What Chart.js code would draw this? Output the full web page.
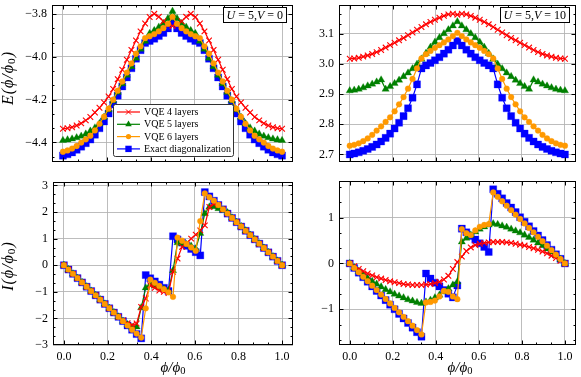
<!DOCTYPE html>
<html><head><meta charset="utf-8">
<script src="https://cdn.jsdelivr.net/npm/chart.js@4.4.1/dist/chart.umd.min.js"></script>
<style>
html,body{margin:0;padding:0;background:#fff;}
#wrap{position:relative;width:581px;height:377px;overflow:hidden;background:#fff;}
canvas{position:absolute;}
</style></head><body>
<div id="wrap">
<canvas id="cTL" style="left:0px;top:0px;width:300px;height:175px" width="300" height="175"></canvas>
<canvas id="cTR" style="left:290px;top:0px;width:291px;height:175px" width="291" height="175"></canvas>
<canvas id="cBL" style="left:0px;top:175px;width:300px;height:202px" width="300" height="202"></canvas>
<canvas id="cBR" style="left:290px;top:175px;width:291px;height:202px" width="291" height="202"></canvas>
</div>
<script>
// ---------- data ----------
const phi = [0,0.0208,0.0417,0.0625,0.0833,0.1042,0.125,0.1458,0.1667,0.1875,0.2083,0.2292,0.25,0.2708,0.2917,0.3125,0.3333,0.3542,0.375,0.3958,0.4167,0.4375,0.4583,0.4792,0.5,0.5208,0.5417,0.5625,0.5833,0.6042,0.625,0.6458,0.6667,0.6875,0.7083,0.7292,0.75,0.7708,0.7917,0.8125,0.8333,0.8542,0.875,0.8958,0.9167,0.9375,0.9583,0.9792,1];
const seriesNames = ['VQE 4 layers','VQE 5 layers','VQE 6 layers','Exact diagonalization'];

// Energy, U=5, V=0
const eV0_vqe4 = [-4.336,-4.334,-4.329,-4.321,-4.311,-4.297,-4.281,-4.260,-4.238,-4.213,-4.185,-4.150,-4.104,-4.060,-4.013,-3.967,-3.923,-3.880,-3.843,-3.813,-3.798,-3.812,-3.833,-3.850,-3.855,-3.850,-3.833,-3.812,-3.798,-3.813,-3.843,-3.880,-3.923,-3.967,-4.013,-4.060,-4.104,-4.150,-4.185,-4.213,-4.238,-4.260,-4.281,-4.297,-4.311,-4.321,-4.329,-4.334,-4.336];
const eV0_vqe5 = [-4.391,-4.388,-4.384,-4.378,-4.371,-4.361,-4.347,-4.332,-4.312,-4.282,-4.247,-4.205,-4.165,-4.125,-4.085,-4.045,-4.005,-3.963,-3.926,-3.890,-3.876,-3.860,-3.843,-3.820,-3.786,-3.820,-3.843,-3.860,-3.876,-3.890,-3.926,-3.963,-4.005,-4.045,-4.085,-4.125,-4.165,-4.205,-4.247,-4.282,-4.312,-4.332,-4.347,-4.361,-4.371,-4.378,-4.384,-4.388,-4.391];
const eV0_vqe6 = [-4.444,-4.438,-4.429,-4.417,-4.401,-4.386,-4.369,-4.344,-4.313,-4.280,-4.242,-4.200,-4.158,-4.115,-4.073,-4.030,-3.985,-3.950,-3.912,-3.903,-3.893,-3.880,-3.865,-3.845,-3.812,-3.845,-3.865,-3.880,-3.893,-3.903,-3.912,-3.950,-3.985,-4.030,-4.073,-4.115,-4.158,-4.200,-4.242,-4.280,-4.313,-4.344,-4.369,-4.386,-4.401,-4.417,-4.429,-4.438,-4.444];
const eV0_exact = [-4.462,-4.456,-4.447,-4.435,-4.420,-4.404,-4.387,-4.364,-4.334,-4.302,-4.265,-4.223,-4.181,-4.138,-4.096,-4.053,-4.008,-3.968,-3.935,-3.925,-3.915,-3.902,-3.887,-3.866,-3.835,-3.866,-3.887,-3.902,-3.915,-3.925,-3.935,-3.968,-4.008,-4.053,-4.096,-4.138,-4.181,-4.223,-4.265,-4.302,-4.334,-4.364,-4.387,-4.404,-4.420,-4.435,-4.447,-4.456,-4.462];

// Energy, U=5, V=10
const eV10_vqe4 = [3.017,3.018,3.020,3.024,3.028,3.033,3.039,3.046,3.054,3.062,3.070,3.078,3.086,3.095,3.104,3.113,3.122,3.131,3.139,3.146,3.153,3.159,3.164,3.166,3.163,3.166,3.164,3.159,3.153,3.146,3.139,3.131,3.122,3.113,3.104,3.095,3.086,3.078,3.070,3.062,3.054,3.046,3.039,3.033,3.028,3.024,3.020,3.018,3.017];
const eV10_vqe5 = [2.911,2.913,2.916,2.921,2.927,2.933,2.940,2.947,2.916,2.925,2.935,2.946,2.958,2.970,2.984,2.999,3.016,3.035,3.055,3.072,3.087,3.100,3.113,3.126,3.140,3.126,3.113,3.100,3.087,3.072,3.055,3.035,3.016,2.999,2.984,2.970,2.958,2.946,2.935,2.925,2.916,2.947,2.940,2.933,2.927,2.921,2.916,2.913,2.911];
const eV10_vqe6 = [2.729,2.732,2.737,2.744,2.753,2.765,2.779,2.793,2.808,2.823,2.843,2.866,2.890,2.918,2.950,2.985,3.018,3.032,3.043,3.053,3.062,3.071,3.081,3.092,3.103,3.092,3.081,3.071,3.062,3.053,3.043,3.032,3.018,2.985,2.950,2.918,2.890,2.866,2.843,2.823,2.808,2.793,2.779,2.765,2.753,2.744,2.737,2.732,2.729];
const eV10_exact = [2.700,2.703,2.707,2.712,2.718,2.725,2.733,2.743,2.755,2.769,2.786,2.805,2.827,2.853,2.888,2.932,2.985,2.995,3.003,3.012,3.022,3.034,3.047,3.061,3.076,3.061,3.047,3.034,3.022,3.012,3.003,2.995,2.985,2.932,2.888,2.853,2.827,2.805,2.786,2.769,2.755,2.743,2.733,2.725,2.718,2.712,2.707,2.703,2.700];

// Current, U=5, V=0
const iV0_vqe4 = [0,-0.162,-0.324,-0.485,-0.647,-0.809,-0.971,-1.132,-1.294,-1.456,-1.618,-1.779,-1.941,-2.080,-2.180,-2.250,-2.190,-1.570,-1.250,-0.750,-0.850,-0.950,-1.000,-1.050,-0.250,0.250,0.690,0.820,1.000,1.150,1.310,1.500,2.190,2.300,2.265,2.103,1.941,1.779,1.618,1.456,1.294,1.132,0.971,0.809,0.647,0.485,0.324,0.162,0];
const iV0_vqe5 = [0,-0.162,-0.324,-0.485,-0.647,-0.809,-0.971,-1.132,-1.294,-1.456,-1.618,-1.779,-1.941,-2.103,-2.230,-2.330,-2.320,-1.600,-0.850,-0.720,-0.780,-0.840,-0.900,-0.950,-0.200,0.850,0.820,0.780,0.720,0.620,1.200,1.940,2.190,2.200,2.130,2.070,1.980,1.779,1.618,1.456,1.294,1.132,0.971,0.809,0.647,0.485,0.324,0.162,0];
const iV0_vqe6 = [0,-0.162,-0.324,-0.485,-0.647,-0.809,-0.971,-1.132,-1.294,-1.456,-1.618,-1.779,-1.941,-2.103,-2.265,-2.426,-2.570,-2.720,-1.620,-0.540,-0.660,-0.780,-0.900,-1.020,-1.190,1.040,0.920,0.800,0.670,0.540,1.660,2.700,2.560,2.426,2.265,2.103,1.941,1.779,1.618,1.456,1.294,1.132,0.971,0.809,0.647,0.485,0.324,0.162,0];
const iV0_exact = [0,-0.162,-0.324,-0.485,-0.647,-0.809,-0.971,-1.132,-1.294,-1.456,-1.618,-1.779,-1.941,-2.103,-2.265,-2.426,-2.588,-2.750,-0.370,-0.490,-0.610,-0.730,-0.850,-0.970,1.090,0.970,0.850,0.730,0.610,0.490,0.370,2.750,2.588,2.426,2.265,2.103,1.941,1.779,1.618,1.456,1.294,1.132,0.971,0.809,0.647,0.485,0.324,0.162,0];

// Current, U=5, V=10
const iV10_vqe4 = [0,-0.060,-0.120,-0.170,-0.220,-0.260,-0.300,-0.330,-0.360,-0.390,-0.410,-0.430,-0.450,-0.460,-0.470,-0.470,-0.470,-0.460,-0.450,-0.430,-0.400,-0.350,-0.270,-0.120,0.030,0.150,0.270,0.350,0.400,0.430,0.450,0.460,0.470,0.470,0.470,0.460,0.450,0.430,0.410,0.390,0.360,0.330,0.300,0.260,0.220,0.170,0.120,0.060,0];
const iV10_vqe5 = [0,-0.090,-0.170,-0.250,-0.320,-0.390,-0.450,-0.510,-0.570,-0.620,-0.670,-0.710,-0.750,-0.790,-0.820,-0.850,-0.870,-0.840,-0.800,-0.750,-0.690,-0.620,-0.550,-0.470,-0.400,0.470,0.550,0.620,0.690,0.750,0.800,0.840,0.870,0.850,0.820,0.790,0.750,0.710,0.670,0.620,0.570,0.510,0.450,0.390,0.320,0.250,0.170,0.090,0];
const iV10_vqe6 = [0,-0.097,-0.194,-0.291,-0.388,-0.485,-0.582,-0.679,-0.776,-0.873,-0.970,-1.067,-1.164,-1.261,-1.358,-1.455,-1.550,-0.850,-0.840,-0.810,-0.720,-0.600,-0.620,-0.720,-0.780,0.750,0.660,0.620,0.720,0.800,0.840,0.860,1.550,1.455,1.358,1.261,1.164,1.067,0.970,0.873,0.776,0.679,0.582,0.485,0.388,0.291,0.194,0.097,0];
const iV10_exact = [0,-0.100,-0.200,-0.300,-0.400,-0.500,-0.600,-0.700,-0.800,-0.900,-1.000,-1.100,-1.200,-1.300,-1.400,-1.500,-1.600,-0.220,-0.330,-0.420,-0.500,-0.580,-0.660,-0.740,-0.480,0.760,0.680,0.600,0.520,0.440,0.360,0.250,1.620,1.520,1.420,1.320,1.220,1.120,1.010,0.910,0.810,0.710,0.610,0.510,0.400,0.300,0.200,0.100,0];

// tick labels
const xTicks = [0, 0.2, 0.4, 0.6, 0.8, 1.0];
const yTicksE0 = [-4.4, -4.2, -4.0, -3.8];
const yTicksE10 = [2.7, 2.8, 2.9, 3.0, 3.1];
const yTicksI0 = [-3, -2, -1, 0, 1, 2, 3];
const yTicksI10 = [-1, 0, 1];

// ---------- styling ----------
const SERIF = '"Liberation Serif","DejaVu Serif",serif';
const COLORS = ['#ff0000', '#008000', '#ff9900', '#0000ff'];
const STYLES = ['crossRot', 'triangle', 'circle', 'rect'];
const RADII = [4.0, 4.2, 2.9, 5.0];
const ORDERS = [2, 3, 1, 4];
const GRID = 'rgba(178,178,178,0.85)';

function fmt(dec) {
  return v => { const s = Math.abs(v).toFixed(dec); return (v < -1e-9 ? '\u2212' : '') + s; };
}
function minorVals(lo, hi, step) {
  const out = [];
  const start = Math.ceil(lo / step - 1e-6);
  for (let k = start; k * step <= hi + 1e-9; k++) out.push(+(k * step).toFixed(6));
  return out;
}
function partsWidth(ctx, parts) {
  let w = 0; for (const p of parts) { ctx.font = p.font; w += ctx.measureText(p.t).width; } return w;
}
function drawParts(ctx, parts, x, y) {
  let cx = x;
  for (const p of parts) { ctx.font = p.font; ctx.fillText(p.t, cx, y + (p.dy || 0)); cx += ctx.measureText(p.t).width; }
}
const IT = s => 'italic ' + s + 'px ' + SERIF;
const RM = s => s + 'px ' + SERIF;
function phiTitle(prefix, size) {
  const arr = [];
  if (prefix) arr.push({t: prefix + '(', font: IT(size)});
  arr.push({t: '\u03D5/\u03D5', font: IT(size)});
  arr.push({t: '0', font: RM(size * 0.7), dy: 3});
  if (prefix) arr.push({t: ')', font: IT(size)});
  return arr;
}

function drawMarker(ctx, style, x, y, r, color) {
  ctx.save();
  ctx.fillStyle = color; ctx.strokeStyle = color; ctx.lineWidth = 1;
  ctx.beginPath();
  if (style === 'crossRot') {
    const d = r * Math.SQRT1_2;
    ctx.moveTo(x - d, y - d); ctx.lineTo(x + d, y + d);
    ctx.moveTo(x - d, y + d); ctx.lineTo(x + d, y - d); ctx.stroke();
  } else if (style === 'triangle') {
    ctx.moveTo(x, y - r);
    ctx.lineTo(x + Math.sin(2 * Math.PI / 3) * r, y - Math.cos(2 * Math.PI / 3) * r);
    ctx.lineTo(x + Math.sin(4 * Math.PI / 3) * r, y - Math.cos(4 * Math.PI / 3) * r);
    ctx.closePath(); ctx.fill();
  } else if (style === 'circle') {
    ctx.arc(x, y, r, 0, Math.PI * 2); ctx.fill();
  } else {
    const s = r * Math.SQRT1_2; ctx.rect(x - s, y - s, 2 * s, 2 * s); ctx.fill();
  }
  ctx.restore();
}

const decor = {
  id: 'decor',
  afterDatasetsDraw(chart, args, o) {
    const {ctx, chartArea: a} = chart;
    const xs = chart.scales.x, ys = chart.scales.y;
    const L = Math.round(a.left), R = Math.round(a.right), T = Math.round(a.top), B = Math.round(a.bottom);
    ctx.save();
    ctx.strokeStyle = '#000'; ctx.lineWidth = 1;
    ctx.beginPath();
    const xt = (vals, len) => vals.forEach(v => { const p = Math.round(xs.getPixelForValue(v)) + 0.5; if (p < L || p > R) return; ctx.moveTo(p, B); ctx.lineTo(p, B - len); ctx.moveTo(p, T); ctx.lineTo(p, T + len); });
    const yt = (vals, len) => vals.forEach(v => { const p = Math.round(ys.getPixelForValue(v)) + 0.5; if (p < T || p > B) return; ctx.moveTo(L, p); ctx.lineTo(L + len, p); ctx.moveTo(R, p); ctx.lineTo(R - len, p); });
    xt(o.xMajor, 4.5); xt(o.xMinor, 2.5); yt(o.yMajor, 4.5); yt(o.yMinor, 2.5);
    ctx.stroke();
    ctx.strokeRect(L + 0.5, T + 0.5, R - L - 1, B - T - 1);

    // annotation box
    if (o.annot) {
      const parts = o.annot;
      const w = partsWidth(ctx, parts);
      const bx1 = R - 7, bx0 = bx1 - w - 6, by0 = T + 2, by1 = by0 + 15;
      ctx.fillStyle = '#fff'; ctx.fillRect(bx0, by0, bx1 - bx0, by1 - by0);
      ctx.strokeStyle = '#000'; ctx.lineWidth = 1;
      ctx.strokeRect(Math.round(bx0) + 0.5, by0 + 0.5, Math.round(bx1 - bx0), by1 - by0);
      ctx.fillStyle = '#000'; ctx.textBaseline = 'alphabetic'; ctx.textAlign = 'left';
      drawParts(ctx, parts, bx0 + 3, by1 - 3.5);
    }
    // legend
    if (o.legend) {
      const lg = o.legend;
      ctx.fillStyle = '#fff';
      ctx.beginPath(); ctx.roundRect(lg.x + 0.5, lg.y + 0.5, lg.w, lg.h, 2); ctx.fill();
      ctx.strokeStyle = '#333'; ctx.lineWidth = 1; ctx.stroke();
      ctx.font = RM(10); ctx.textBaseline = 'middle'; ctx.textAlign = 'left';
      for (let i = 0; i < seriesNames.length; i++) {
        const cy = lg.y + 8 + i * 12.3;
        ctx.strokeStyle = COLORS[i]; ctx.lineWidth = 1.2;
        ctx.beginPath(); ctx.moveTo(lg.x + 4, cy); ctx.lineTo(lg.x + 27, cy); ctx.stroke();
        drawMarker(ctx, STYLES[i], lg.x + 15.5, cy, RADII[i] * 0.9, COLORS[i]);
        ctx.fillStyle = '#000';
        ctx.fillText(seriesNames[i], lg.x + 31, cy + 0.5);
      }
    }
    ctx.restore();
  },
  afterDraw(chart, args, o) {
    const ctx = chart.ctx;
    ctx.save(); ctx.fillStyle = '#000'; ctx.textBaseline = 'middle'; ctx.textAlign = 'left';
    if (o.yTitle) {
      ctx.letterSpacing = '1px';
      const parts = o.yTitle.parts; const w = partsWidth(ctx, parts);
      ctx.translate(o.yTitle.x, o.yTitle.y); ctx.rotate(-Math.PI / 2);
      drawParts(ctx, parts, -w / 2, 0);
      ctx.setTransform(1, 0, 0, 1, 0, 0);
      ctx.letterSpacing = '0px';
    }
    if (o.xTitle) {
      const parts = o.xTitle.parts; const w = partsWidth(ctx, parts);
      drawParts(ctx, parts, o.xTitle.x - w / 2, o.xTitle.y);
    }
    ctx.restore();
  }
};

function makePanel(id, cfg) {
  const cv = document.getElementById(id);
  const W = cv.width, H = cv.height;
  const a = cfg.area;
  const series = cfg.series;
  const datasets = series.map((vals, i) => ({
    label: seriesNames[i],
    data: phi.map((p, j) => ({x: p, y: vals[j]})),
    borderColor: COLORS[i],
    backgroundColor: COLORS[i],
    borderWidth: 1.2,
    pointStyle: STYLES[i],
    pointRadius: RADII[i],
    pointHoverRadius: RADII[i],
    pointBackgroundColor: COLORS[i],
    pointBorderColor: COLORS[i],
    pointBorderWidth: i === 0 ? 1.1 : 0.3,
    tension: 0,
    fill: false,
    order: ORDERS[i]
  }));
  const tickFont = {family: SERIF, size: 12};
  return new Chart(cv, {
    type: 'line',
    data: {datasets},
    options: {
      responsive: false, animation: false, events: [],
      layout: {padding: {left: 0, top: a.T, right: W - a.R, bottom: 0}},
      plugins: {
        legend: {display: false}, tooltip: {enabled: false},
        decor: {
          xMajor: xTicks, xMinor: minorVals(-0.05, 1.05, 0.2 / 3),
          yMajor: cfg.yTicks, yMinor: minorVals(cfg.yMin, cfg.yMax, cfg.yStep / 3),
          annot: cfg.annot, legend: cfg.legend, yTitle: cfg.yTitle, xTitle: cfg.xTitle
        }
      },
      scales: {
        x: {
          type: 'linear', min: -0.05, max: 1.05,
          afterBuildTicks: s => { s.ticks = xTicks.map(v => ({value: v})); },
          afterFit: s => { s.height = H - a.B; s.paddingLeft = 0; s.paddingRight = 0; },
          grid: {color: GRID, lineWidth: 1, drawTicks: false},
          border: {display: false},
          ticks: {display: cfg.showX, font: tickFont, color: '#000', padding: 5, maxRotation: 0, callback: fmt(1)}
        },
        y: {
          type: 'linear', min: cfg.yMin, max: cfg.yMax,
          afterBuildTicks: s => { s.ticks = cfg.yTicks.map(v => ({value: v})); },
          afterFit: s => { s.width = a.L; s.paddingTop = 0; s.paddingBottom = 0; },
          grid: {color: GRID, lineWidth: 1, drawTicks: false},
          border: {display: false},
          ticks: {font: tickFont, color: '#000', padding: 5, callback: fmt(cfg.yDec)}
        }
      }
    },
    plugins: [decor]
  });
}

const annotV0 = [{t: 'U', font: IT(12)}, {t: ' = 5,', font: RM(12)}, {t: 'V', font: IT(12)}, {t: ' = 0', font: RM(12)}];
const annotV10 = [{t: 'U', font: IT(12)}, {t: ' = 5,', font: RM(12)}, {t: 'V', font: IT(12)}, {t: ' = 10', font: RM(12)}];

makePanel('cTL', {
  area: {L: 52, T: 1, R: 293, B: 162},
  series: [eV0_vqe4, eV0_vqe5, eV0_vqe6, eV0_exact],
  yMin: -4.492, yMax: -3.758, yTicks: yTicksE0, yStep: 0.2, yDec: 1, showX: false,
  annot: annotV0,
  legend: {x: 113, y: 104, w: 120, h: 52},
  yTitle: {x: 9, y: 78, parts: phiTitle('E', 16)}
});
makePanel('cTR', {
  area: {L: 49, T: 1, R: 290, B: 162},
  series: [eV10_vqe4, eV10_vqe5, eV10_vqe6, eV10_exact],
  yMin: 2.675, yMax: 3.194, yTicks: yTicksE10, yStep: 0.1, yDec: 1, showX: false,
  annot: annotV10
});
makePanel('cBL', {
  area: {L: 53, T: 7, R: 293, B: 170},
  series: [iV0_vqe4, iV0_vqe5, iV0_vqe6, iV0_exact],
  yMin: -3.0, yMax: 3.13, yTicks: yTicksI0, yStep: 1, yDec: 0, showX: true,
  yTitle: {x: 9, y: 91, parts: phiTitle('I', 16)},
  xTitle: {x: 173, y: 193, parts: phiTitle('', 15)}
});
makePanel('cBR', {
  area: {L: 49, T: 6, R: 290, B: 170},
  series: [iV10_vqe4, iV10_vqe5, iV10_vqe6, iV10_exact],
  yMin: -1.78, yMax: 1.80, yTicks: yTicksI10, yStep: 1, yDec: 0, showX: true,
  xTitle: {x: 170, y: 193, parts: phiTitle('', 15)}
});
</script>
</body></html>
